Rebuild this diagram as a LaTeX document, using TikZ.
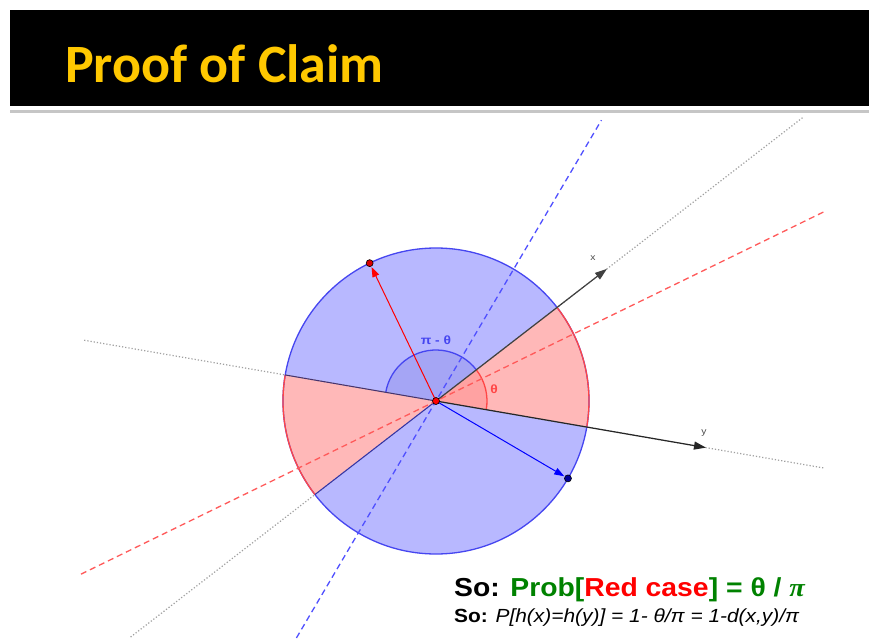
\documentclass[tikz,border=0pt]{standalone}
\usepackage{fontspec}
\setmainfont{Liberation Sans}
\newfontfamily\titlefont{Carlito}
\newfontfamily\widesans[FakeStretch=1.09]{Liberation Sans}
\newfontfamily\widesanstwo[FakeStretch=1.1]{Liberation Sans}
\newfontfamily\serifit[FakeStretch=1.09]{Liberation Serif}
\newfontfamily\labelsans[FakeStretch=1.15]{Liberation Sans}
\usetikzlibrary{arrows.meta}
\definecolor{titleyellow}{RGB}{255,200,0}
\definecolor{bluefill}{RGB}{184,184,255}
\definecolor{redfill}{RGB}{255,184,184}
\definecolor{innerblue}{RGB}{165,165,245}
\definecolor{innerred}{RGB}{255,162,162}
\definecolor{circblue}{RGB}{70,70,240}
\definecolor{arcred}{RGB}{255,70,70}
\definecolor{dashred}{RGB}{255,90,90}
\definecolor{dashblue}{RGB}{80,80,255}
\definecolor{probgreen}{RGB}{0,130,0}
\definecolor{edgedark}{RGB}{70,50,110}
\tikzset{
  dotline/.style={gray!75, dotted, line width=1.2pt},
  reddash/.style={dashred, dash pattern=on 6pt off 4pt, line width=1.3pt},
  bluedash/.style={dashblue, dash pattern=on 6pt off 4pt, line width=1.3pt},
  vecarrow/.style={line width=1.2pt, -{Triangle[length=12pt,width=8pt]}},
  ptnode/.style={circle, draw=black, line width=0.6pt, inner sep=0pt, minimum size=7pt},
  smalllabel/.style={font=\labelsans\fontsize{9}{9}\selectfont, inner sep=0pt},
  anglelabel/.style={font=\labelsans\bfseries\fontsize{12}{12}\selectfont},
}
\begin{document}
\begin{tikzpicture}[x=1pt,y=1pt]
\useasboundingbox[fill=white] (-436,-237) rectangle (453,401);
% header
\fill[black] (-426,295) rectangle (433,391);
\fill[gray!45] (-426,288) rectangle (433,291.5);
\node[anchor=base west, text=titleyellow, inner sep=0pt,
  font=\titlefont\bfseries\fontsize{54}{54}\selectfont] (title) at (-371,319) {Proof of Claim};
% centre
\coordinate (O) at (0,0);
% circle and sectors
\fill[bluefill] (O) circle (153);
\fill[redfill] (O) -- (-9.8:153) arc[start angle=-9.8, end angle=37.7, radius=153] -- cycle;
\fill[redfill] (O) -- (170.2:153) arc[start angle=170.2, end angle=217.7, radius=153] -- cycle;
\fill[innerblue] (O) -- (37.7:51) arc[start angle=37.7, end angle=170.2, radius=51] -- cycle;
\fill[innerred] (O) -- (-9.8:51) arc[start angle=-9.8, end angle=37.7, radius=51] -- cycle;
\draw[circblue, line width=1.3pt] (37.7:51) arc[start angle=37.7, end angle=170.2, radius=51];
\draw[arcred, line width=1.3pt] (-9.8:51) arc[start angle=-9.8, end angle=37.7, radius=51];
\draw[circblue, line width=1.3pt] (O) circle (153);
\draw[arcred, line width=1.3pt] (-9.8:153) arc[start angle=-9.8, end angle=37.7, radius=153];
\draw[arcred, line width=1.3pt] (170.2:153) arc[start angle=170.2, end angle=217.7, radius=153];
% line end points
\coordinate (xa) at (37.7:464);
\coordinate (xb) at (217.7:386);
\coordinate (ya) at (-9.8:395);
\coordinate (yb) at (170.2:357);
\coordinate (ra) at (26:435);
\coordinate (rb) at (206:395);
\coordinate (ba) at (59.5:326);
\coordinate (bb) at (239.5:275);
\draw[dotline] (xb) -- (xa);
\draw[dotline] (yb) -- (ya);
% left sector edges
\draw[edgedark, line width=1pt] (O) -- (170.2:153);
\draw[circblue!70!black, line width=1pt] (O) -- (217.7:153);
\draw[reddash] (rb) -- (ra);
\draw[bluedash] (bb) -- (ba);
% x and y vectors
\coordinate (xt) at (37.7:216);
\coordinate (yt) at (-9.8:274);
\draw[vecarrow, black!75] (O) -- (xt);
\draw[vecarrow, black!85] (O) -- (yt);
\node[smalllabel, text=black!70] (xl) at (157,143) {x};
\node[smalllabel, text=black!70] (yl) at (268,-32) {y};
% random vectors
\node[ptnode, fill=red!85!black] (pr) at (115.7:153) {};
\node[ptnode, fill=blue!60!black] (pb) at (-30.4:153) {};
\draw[red, line width=1pt, -{Triangle[length=10pt,width=7pt]}, shorten >=0.5pt] (O) -- (pr);
\draw[blue, line width=1pt, -{Triangle[length=10pt,width=7pt]}, shorten >=0.5pt] (O) -- (pb);
\node[ptnode, fill=red] (po) at (O) {};
% angle labels
\node[anglelabel, text=circblue] (pt) at (0,61) {π - θ};
\node[anglelabel, text=arcred] (th) at (58,12) {θ};
% bottom text
\node[anchor=base west, inner sep=0pt, font=\widesans\bfseries\fontsize{26}{26}\selectfont] (l1) at (18,-195)
  {So: \textcolor{probgreen}{Prob[}\textcolor{red}{Red case}\textcolor{probgreen}{] = θ / {\serifit\itshape π}}};
\node[anchor=base west, inner sep=0pt, font=\widesanstwo\fontsize{19}{19}\selectfont] (l2) at (18,-221)
  {\textbf{So:} \textit{P[h(x)=h(y)] = 1- θ/π = 1-d(x,y)/π}};
\end{tikzpicture}
\end{document}
